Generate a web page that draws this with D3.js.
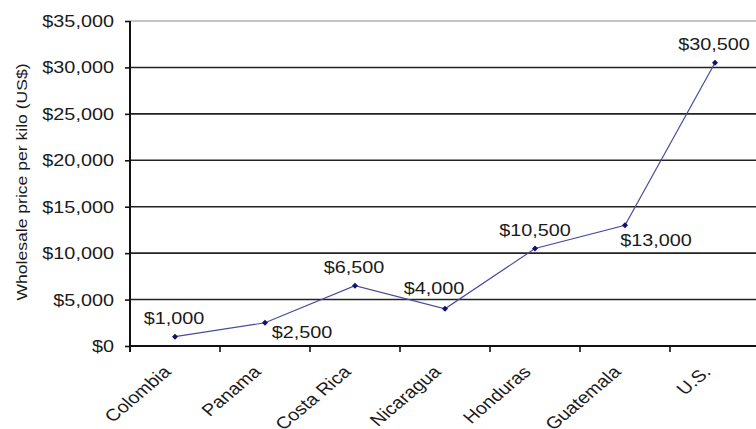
<!DOCTYPE html>
<html>
<head>
<meta charset="utf-8">
<script src="https://cdn.jsdelivr.net/npm/d3@7"></script>
<style>
  html, body { margin: 0; padding: 0; background: #fff; }
  svg { display: block; }
  text { font-family: Arial, "Liberation Sans", sans-serif; fill: #1a1a1a; }
</style>
</head>
<body>
<svg id="chart" width="756" height="429"></svg>
<script>
// ---- data ----
const categories = ["Colombia", "Panama", "Costa Rica", "Nicaragua", "Honduras", "Guatemala", "U.S."];
const prices = [1000, 2500, 6500, 4000, 10500, 13000, 30500];
const yTicks = [0, 5000, 10000, 15000, 20000, 25000, 30000, 35000];
const yTitle = "Wholesale price per kilo (US$)";

// ---- layout (not data) ----
const W = 756, H = 429;
const plot = { left: 130, right: 760, top: 21, bottom: 346 };
const FS = 16, SX = 1.24, SY = 1.05;
// label placement relative to point (pixels)
const labelPlace = {
  "Colombia":   { dx: -1,  dy: -19 },
  "Panama":     { dx: 37,  dy: 9 },
  "Costa Rica": { dx: -1,  dy: -19 },
  "Nicaragua":  { dx: -11, dy: -21 },
  "Honduras":   { dx: 0,   dy: -19 },
  "Guatemala":  { dx: 31,  dy: 15 },
  "U.S.":       { dx: -1,  dy: -19 }
};

const svg = d3.select("#chart");
const x = d3.scaleBand().domain(categories).range([plot.left, plot.right]).paddingInner(0).paddingOuter(0);
const y = d3.scaleLinear().domain([0, 35000]).range([plot.bottom, plot.top]);
const fmt = v => "$" + d3.format(",")(v);

// gridlines
svg.append("g").selectAll("line").data(yTicks.filter(t => t > 0)).join("line")
  .attr("x1", plot.left).attr("x2", W)
  .attr("y1", d => y(d)).attr("y2", d => y(d))
  .attr("stroke", d => d === 35000 ? "#8a8a8a" : "#222")
  .attr("stroke-width", d => d === 35000 ? 1.2 : 1.6);

// y axis
const yAxis = d3.axisLeft(y).tickValues(yTicks).tickSize(5).tickFormat("");
const gy = svg.append("g").attr("transform", `translate(${plot.left},0)`).call(yAxis);
gy.select(".domain").remove();
gy.selectAll(".tick line").attr("stroke", "#111").attr("stroke-width", 1.6);
svg.append("line").attr("x1", plot.left).attr("x2", plot.left)
  .attr("y1", plot.top).attr("y2", plot.bottom + 6)
  .attr("stroke", "#111").attr("stroke-width", 2);

// y tick labels
svg.append("g").selectAll("text").data(yTicks).join("text")
  .attr("transform", d => `translate(114,${y(d)}) scale(${SX},${SY})`)
  .attr("text-anchor", "end").attr("dy", "0.36em")
  .style("font-size", FS + "px")
  .text(fmt);

// x axis
const xTickPos = categories.map(c => x(c) + x.bandwidth());
svg.append("g").selectAll("line").data(xTickPos).join("line")
  .attr("x1", d => d).attr("x2", d => d)
  .attr("y1", plot.bottom).attr("y2", plot.bottom + 6)
  .attr("stroke", "#111").attr("stroke-width", 1.6);
svg.append("line").attr("x1", plot.left).attr("x2", W)
  .attr("y1", plot.bottom).attr("y2", plot.bottom)
  .attr("stroke", "#111").attr("stroke-width", 2);

// x labels
svg.append("g").selectAll("text").data(categories).join("text")
  .attr("transform", d => `translate(${x(d) + x.bandwidth() / 2 - 3},373) scale(${SX},${SY}) rotate(-45)`)
  .attr("text-anchor", "end")
  .style("font-size", FS + "px")
  .text(d => d);

// y title
svg.append("text")
  .attr("transform", `translate(27,182) rotate(-90)`)
  .attr("text-anchor", "middle")
  .attr("textLength", 237).attr("lengthAdjust", "spacingAndGlyphs")
  .style("font-size", "15px")
  .text(yTitle);

// line
const pts = categories.map((c, i) => ({ c, v: prices[i], px: x(c) + x.bandwidth() / 2, py: y(prices[i]) }));
svg.append("path").datum(pts)
  .attr("d", d3.line().x(d => d.px).y(d => d.py))
  .attr("fill", "none").attr("stroke", "#4a4a9c").attr("stroke-width", 1.2);

// markers (diamonds)
svg.append("g").selectAll("path").data(pts).join("path")
  .attr("transform", d => `translate(${d.px},${d.py})`)
  .attr("d", "M0,-3L3,0L0,3L-3,0Z")
  .attr("fill", "#10106e");

// data labels
svg.append("g").selectAll("text").data(pts).join("text")
  .attr("transform", d => `translate(${d.px + labelPlace[d.c].dx},${d.py + labelPlace[d.c].dy}) scale(${SX},${SY})`)
  .attr("text-anchor", "middle").attr("dy", "0.36em")
  .style("font-size", FS + "px")
  .text(d => fmt(d.v));
</script>
</body>
</html>
